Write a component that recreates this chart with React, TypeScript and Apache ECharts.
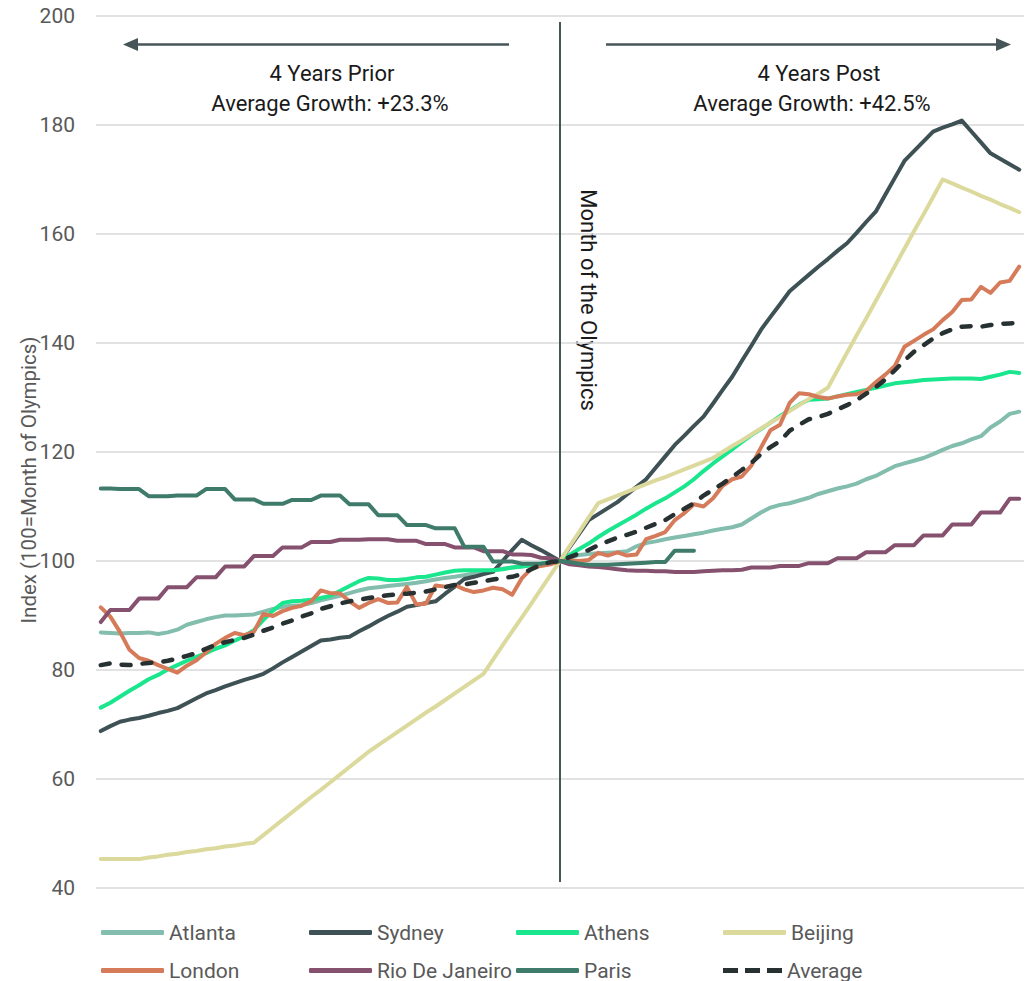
import React, { useEffect, useRef } from "react";
import * as echarts from "echarts";

// Months relative to the month of the Games (0 = month of the Olympics)
const months: string[] = Array.from({ length: 97 }, (_, i) => String(i - 48));

// House-price index, 100 = month of the Olympics
const atlanta = [
  86.9, 86.8, 86.7, 86.8, 86.8, 86.9, 86.6, 86.9, 87.4, 88.3, 88.8, 89.3, 89.7, 90.0, 90.0, 90.1,
  90.2, 90.7, 91.2, 91.6, 91.8, 91.9, 92.3, 92.8, 93.2, 93.6, 94.1, 94.6, 95.0, 95.2, 95.4, 95.6,
  95.8, 96.0, 96.3, 96.6, 96.9, 97.1, 97.4, 97.7, 98.0, 98.3, 98.6, 98.8, 99.0, 99.2, 99.5, 99.8,
  100,
  100.6, 101.1, 101.3, 101.4, 101.5, 101.6, 101.8, 102.7, 103.3, 103.6, 104.0, 104.3, 104.6, 104.9,
  105.2, 105.6, 105.9, 106.2, 106.7, 107.8, 108.9, 109.8, 110.3, 110.6, 111.1, 111.6, 112.3, 112.8,
  113.3, 113.7, 114.2, 115.0, 115.6, 116.5, 117.4, 117.9, 118.4, 118.9, 119.6, 120.4, 121.1, 121.6,
  122.3, 122.9, 124.5, 125.6, 127.0, 127.4,
];

const sydney = [
  68.8, 69.7, 70.5, 70.9, 71.2, 71.6, 72.1, 72.5, 73.0, 73.9, 74.8, 75.7, 76.3, 77.0, 77.6, 78.2,
  78.7, 79.3, 80.3, 81.4, 82.4, 83.4, 84.4, 85.4, 85.6, 85.9, 86.1, 87.1, 88.0, 89.0, 89.9, 90.7,
  91.6, 91.9, 92.3, 92.6, 94.0, 95.3, 96.7, 97.1, 97.6, 98.0, 100.0, 102.0, 103.9, 102.9, 102.0, 101.0,
  100,
  102.5, 105.0, 107.5, 108.6, 109.7, 110.8, 112.2, 113.6, 115.0, 117.1, 119.2, 121.3, 123.0, 124.8,
  126.5, 128.9, 131.4, 133.8, 136.7, 139.5, 142.4, 144.8, 147.1, 149.5, 151.0, 152.5, 154.0, 155.4,
  156.9, 158.3, 160.2, 162.2, 164.1, 167.2, 170.3, 173.4, 175.2, 177.0, 178.8, 179.5, 180.1, 180.8,
  178.8, 176.8, 174.8, 173.8, 172.8, 171.8,
];

const athens = [
  73.1, 74.0, 75.1, 76.2, 77.2, 78.3, 79.1, 80.1, 80.9, 81.7, 82.4, 83.1, 83.9, 84.5, 85.4, 86.2,
  87.3, 89.2, 90.9, 92.3, 92.6, 92.7, 92.9, 93.2, 93.6, 94.5, 95.4, 96.3, 96.9, 96.8, 96.5, 96.5,
  96.7, 97.0, 97.1, 97.5, 97.9, 98.2, 98.3, 98.3, 98.3, 98.3, 98.5, 98.8, 99.0, 99.2, 99.5, 99.8,
  100,
  101.1, 102.2, 103.2, 104.4, 105.5, 106.5, 107.5, 108.5, 109.6, 110.6, 111.5, 112.6, 113.7, 115.0,
  116.5, 117.9, 119.2, 120.5, 121.8, 123.1, 124.2, 125.4, 126.6, 127.6, 128.7, 129.6, 129.7, 129.8,
  130.2, 130.6, 131.0, 131.4, 131.8, 132.2, 132.6, 132.8, 133.0, 133.2, 133.3, 133.4, 133.5, 133.5,
  133.5, 133.4, 133.8, 134.2, 134.7, 134.5,
];

const beijing = [
  45.3, 45.3, 45.3, 45.3, 45.3, 45.6, 45.8, 46.1, 46.3, 46.6, 46.8, 47.1, 47.3, 47.6, 47.8, 48.1,
  48.3, 49.7, 51.1, 52.5, 53.9, 55.3, 56.7, 58.0, 59.4, 60.8, 62.2, 63.6, 65.0, 66.2, 67.4, 68.6,
  69.8, 71.0, 72.2, 73.3, 74.5, 75.7, 76.9, 78.1, 79.3, 81.9, 84.5, 87.1, 89.6, 92.2, 94.8, 97.4,
  100,
  102.7, 105.3, 108.0, 110.6, 111.3, 112.0, 112.7, 113.4, 114.1, 114.8, 115.4, 116.1, 116.8, 117.5,
  118.2, 118.9, 120.0, 121.1, 122.1, 123.2, 124.3, 125.4, 126.4, 127.5, 128.6, 129.7, 130.7, 131.8,
  135.0, 138.2, 141.4, 144.5, 147.7, 150.9, 154.1, 157.3, 160.5, 163.6, 166.8, 170.0, 169.3, 168.5,
  167.8, 167.0, 166.3, 165.5, 164.8, 164.0,
];

const london = [
  91.5, 89.8, 87.0, 83.7, 82.2, 81.7, 80.9, 80.2, 79.5, 80.8, 81.8, 83.2, 84.8, 85.9, 86.8, 86.4,
  87.0, 90.3, 89.9, 90.8, 91.4, 91.8, 92.6, 94.6, 94.1, 94.1, 92.6, 91.4, 92.3, 93.0, 92.3, 92.4,
  95.2, 92.0, 92.2, 95.5, 95.3, 95.6, 94.8, 94.3, 94.6, 95.1, 94.8, 93.8, 96.8, 98.6, 99.1, 99.4,
  100,
  100.1, 100.0, 100.2, 101.5, 101.0, 101.6, 101.0, 101.2, 104.0, 104.6, 105.3, 107.5, 108.8, 110.4,
  110.0, 111.5, 113.8, 115.0, 115.5, 117.5, 120.8, 124.0, 125.0, 129.0, 130.8, 130.6, 130.1, 129.8,
  130.2, 130.5, 130.6, 131.2, 132.8, 134.2, 135.8, 139.3, 140.4, 141.5, 142.5, 144.2, 145.7, 147.9,
  148.0, 150.3, 149.2, 151.1, 151.4, 154.0,
];

const rio = [
  88.8, 91.0, 91.0, 91.0, 93.1, 93.1, 93.1, 95.2, 95.2, 95.2, 97.0, 97.0, 97.0, 99.0, 99.0, 99.0,
  100.9, 100.9, 100.9, 102.5, 102.5, 102.5, 103.5, 103.5, 103.5, 103.9, 103.9, 103.9, 104.0, 104.0, 104.0, 103.7,
  103.7, 103.7, 103.1, 103.1, 103.1, 102.5, 102.5, 102.5, 101.8, 101.8, 101.8, 101.2, 101.2, 101.1, 100.6, 100.5,
  100,
  99.4, 99.2, 99.0, 98.9, 98.7, 98.5, 98.3, 98.2, 98.2, 98.1, 98.1, 98.0, 98.0, 98.0,
  98.1, 98.2, 98.3, 98.3, 98.4, 98.8, 98.8, 98.8, 99.1, 99.1, 99.1, 99.6, 99.6, 99.6,
  100.5, 100.5, 100.5, 101.6, 101.6, 101.6, 102.9, 102.9, 102.9, 104.7, 104.7, 104.7, 106.7, 106.7,
  106.7, 108.9, 108.9, 108.9, 111.4, 111.4,
];

const paris = [
  113.3, 113.3, 113.2, 113.2, 113.2, 111.9, 111.9, 111.9, 112.0, 112.0, 112.0, 113.2, 113.2, 113.2, 111.3, 111.3,
  111.3, 110.5, 110.5, 110.5, 111.2, 111.2, 111.2, 112.0, 112.0, 112.0, 110.4, 110.4, 110.4, 108.4, 108.4, 108.4,
  106.6, 106.6, 106.6, 106.0, 106.0, 106.0, 102.6, 102.6, 102.6, 99.9, 99.9, 99.9, 99.5, 99.5, 99.5, 99.7,
  100,
  99.8, 99.5, 99.3, 99.3, 99.3, 99.4, 99.5, 99.6, 99.7, 99.8, 99.8, 101.9, 101.9, 101.9,
  null, null, null, null, null, null, null, null, null, null, null, null, null, null, null, null, null,
  null, null, null, null, null, null, null, null, null, null, null, null, null, null, null, null, null,
];

const average = [
  80.9, 81.2, 81.0, 80.9, 81.1, 81.3, 81.4, 81.7, 82.1, 82.6, 83.1, 83.9, 84.6, 85.1, 85.5, 85.9,
  86.5, 87.2, 87.8, 88.5, 89.1, 89.8, 90.4, 91.2, 91.7, 92.2, 92.6, 92.9, 93.2, 93.5, 93.7, 93.9,
  94.0, 94.2, 94.4, 94.8, 95.2, 95.6, 95.7, 96.0, 96.3, 96.6, 96.9, 97.1, 97.6, 98.5, 99.3, 99.8,
  100,
  100.7, 101.4, 102.0, 102.9, 103.6, 104.3, 104.8, 105.4, 106.1, 106.8, 107.5, 108.6, 109.6, 110.6,
  112.0, 113.1, 114.2, 115.4, 116.7, 118.0, 119.6, 120.9, 122.0, 123.9, 125.0, 126.0, 126.4, 127.0,
  127.8, 128.6, 129.5, 130.7, 131.9, 133.3, 135.0, 136.8, 138.4, 139.6, 140.8, 141.8, 142.5, 143.0,
  143.1, 143.0, 143.3, 143.5, 143.6, 143.7,
];

const priorGrowth = "+23.3%";
const postGrowth = "+42.5%";

const FONT = "Roboto";
const INK = "#455558";
const GREY_TEXT = "#595959";

const seriesStyles = [
  { name: "Atlanta", data: atlanta, color: "#83BDAD" },
  { name: "Sydney", data: sydney, color: "#3E5155" },
  { name: "Athens", data: athens, color: "#1AE68D" },
  { name: "Beijing", data: beijing, color: "#DBD99C" },
  { name: "London", data: london, color: "#D57B5A" },
  { name: "Rio De Janeiro", data: rio, color: "#85516F" },
  { name: "Paris", data: paris, color: "#3F7B6A" },
  { name: "Average", data: average, color: "#283131", dashed: true },
];

// legend slots: two rows of four (left, top of an 18px-high item)
const legendSlots: [string, number, number][] = [
  ["Atlanta", 101, 922],
  ["Sydney", 309, 922],
  ["Athens", 516, 922],
  ["Beijing", 723, 922],
  ["London", 101, 960],
  ["Rio De Janeiro", 309, 960],
  ["Paris", 516, 960],
  ["Average", 723, 960],
];

const DASH_ICON = "path://M0,0h15v5h-15z M22,0h15v5h-15z M44,0h15v5h-15z";

function buildOption() {
  const series = seriesStyles.map((s, idx) => {
    const base: any = {
      name: s.name,
      type: "line",
      data: s.data,
      symbol: "none",
      showSymbol: false,
      connectNulls: false,
      color: s.color,
      lineStyle: {
        color: s.color,
        width: s.dashed ? 4.5 : 4,
        type: s.dashed ? [9, 12] : "solid",
        cap: "round",
        join: "round",
      },
      emphasis: { disabled: true },
      z: 2 + idx,
    };
    if (idx === 0) {
      // vertical marker at the month of the Games
      base.markLine = {
        silent: true,
        symbol: "none",
        label: { show: false },
        lineStyle: { color: INK, width: 2, type: "solid" },
        data: [[{ coord: [48, 198.9] }, { coord: [48, 41.1] }]],
      };
    }
    return base;
  });

  const legend = legendSlots.map(([name, left, top]) => {
    const dashed = name === "Average";
    return {
      left,
      top,
      padding: 0,
      itemGap: 0,
      itemWidth: dashed ? 59 : 63,
      itemHeight: 5,
      selectedMode: false,
      data: [{ name, icon: dashed ? DASH_ICON : "roundRect" }],
      textStyle: { color: GREY_TEXT, fontSize: 21, fontFamily: FONT, lineHeight: 18 },
    };
  });

  const textStyle = (text: string, size: number, fill: string) => ({
    text,
    fill,
    font: `${size}px ${FONT}`,
    fontSize: size,
    fontFamily: FONT,
    textAlign: "center",
    align: "center",
    textVerticalAlign: "middle",
    verticalAlign: "middle",
  });

  const graphic = [
    // left arrow
    { type: "line", silent: true, shape: { x1: 509, y1: 44.5, x2: 134, y2: 44.5 }, style: { stroke: INK, lineWidth: 2.6 } },
    { type: "polygon", silent: true, shape: { points: [[123, 44.5], [138, 38], [138, 51]] }, style: { fill: INK } },
    // right arrow
    { type: "line", silent: true, shape: { x1: 606, y1: 44.5, x2: 1000, y2: 44.5 }, style: { stroke: INK, lineWidth: 2.6 } },
    { type: "polygon", silent: true, shape: { points: [[1011, 44.5], [996, 38], [996, 51]] }, style: { fill: INK } },
    { type: "text", silent: true, x: 332, y: 73.5, style: textStyle("4 Years Prior", 22, "#1A1A1A") },
    { type: "text", silent: true, x: 330, y: 103, style: textStyle(`Average Growth: ${priorGrowth}`, 22, "#1A1A1A") },
    { type: "text", silent: true, x: 819, y: 73.5, style: textStyle("4 Years Post", 22, "#1A1A1A") },
    { type: "text", silent: true, x: 812, y: 103, style: textStyle(`Average Growth: ${postGrowth}`, 22, "#1A1A1A") },
    {
      type: "text", silent: true, x: 588, y: 300, rotation: -Math.PI / 2,
      style: textStyle("Month of the Olympics", 22, "#1A1A1A"),
    },
    {
      type: "text", silent: true, x: 29, y: 480, rotation: Math.PI / 2,
      style: textStyle("Index (100=Month of Olympics)", 20.5, GREY_TEXT),
    },
  ];

  return {
    animation: false,
    backgroundColor: "#ffffff",
    textStyle: { fontFamily: FONT },
    grid: { left: 96, right: 3, top: 16, bottom: 93, containLabel: false },
    tooltip: { show: false },
    xAxis: {
      type: "category",
      data: months,
      boundaryGap: true,
      axisLine: { show: false },
      axisTick: { show: false },
      axisLabel: { show: false },
      splitLine: { show: false },
    },
    yAxis: {
      type: "value",
      min: 40,
      max: 200,
      interval: 20,
      axisLine: { show: false },
      axisTick: { show: false },
      axisLabel: { color: GREY_TEXT, fontSize: 21, fontFamily: FONT, margin: 21 },
      splitLine: { lineStyle: { color: "#D9D9D9", width: 1.5 } },
    },
    legend,
    series,
    graphic,
  };
}

export default function App() {
  const ref = useRef<HTMLDivElement>(null);
  useEffect(() => {
    document.body.style.margin = "0";
    if (!ref.current) return;
    const chart = echarts.init(ref.current, undefined, { renderer: "svg" });
    chart.setOption(buildOption() as any);
    return () => chart.dispose();
  }, []);
  return <div ref={ref} style={{ width: 1027, height: 981, background: "#fff" }} />;
}
